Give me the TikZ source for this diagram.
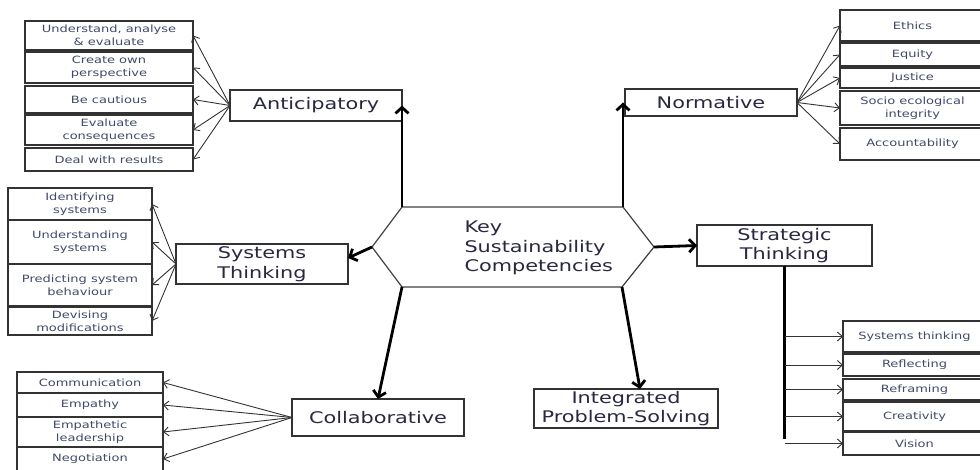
\documentclass[tikz,border=0pt]{standalone}
\usepackage{xcolor}
\usepackage{fontspec}
\newfontfamily\diagfont[FakeStretch=1.3]{DejaVu Sans}
\usepackage{tikz}
\usetikzlibrary{arrows.meta,calc}
\definecolor{bigtext}{RGB}{40,40,64}
\definecolor{smalltext}{RGB}{64,74,104}

\begin{document}
\begin{tikzpicture}[
			x = 1pt, y = -1pt,
			box/.style = {draw=black!80, line width=1.2pt, inner sep=0pt, outer sep=0pt, align=center,
				text=bigtext, font=\diagfont\fontsize{16}{19.5}\selectfont},
			subbox/.style = {draw=black!80, line width=1.1pt, inner sep=0pt, outer sep=0pt, align=center,
				text=smalltext, font=\diagfont\fontsize{10}{13}\selectfont},
			main/.style = {line width=2.8pt, -{Straight Barb[length=6pt,width=13pt]}},
			fan/.style = {draw=black!80, line width=0.9pt, -{Straight Barb[length=5pt,width=9pt]}}
			]

			\path[use as bounding box, clip] (0,0) rectangle (980,470);

			% centre hexagon
			\coordinate (hl) at (372,247);
			\coordinate (htl) at (402,207);
			\coordinate (htr) at (623,207);
			\coordinate (hr) at (654,247);
			\coordinate (hbr) at (622,287);
			\coordinate (hbl) at (402,287);
			\draw[black!75, line width=1.2pt] (hl) -- (htl) -- (htr) -- (hr) -- (hbr) -- (hbl) -- cycle;
			\node[anchor=west, align=left, text=bigtext, font=\diagfont\fontsize{16}{19.5}\selectfont] (key) at (461,248) {Key\\Sustainability\\Competencies};

			% competencies
			\node[box, minimum width=172pt, minimum height=31pt] (ant) at (316,105.5) {Anticipatory};
			\node[box, minimum width=172pt, minimum height=27pt] (nor) at (711,102.5) {Normative};
			\node[box, minimum width=172pt, minimum height=40pt] (sys) at (262,264) {Systems\\Thinking};
			\node[box, minimum width=175pt, minimum height=41pt] (str) at (784.5,245.5) {Strategic\\Thinking};
			\node[box, minimum width=172pt, minimum height=37pt] (col) at (378,417.5) {Collaborative};
			\node[box, minimum width=184pt, minimum height=39pt] (ips) at (626,408.5) {Integrated\\Problem-Solving};

			\draw[main] (htl) -- (htl |- ant.east);
			\draw[main] (htr) -- (htr |- nor.west);
			\draw[main] (hl) -- ([yshift=6pt]sys.east);
			\draw[main] (hr) -- (str.west);
			\draw[main] (hbl) -- (col.north);
			\draw[main] (hbr) -- ([xshift=14pt]ips.north);

			% anticipatory
			\foreach \i/\ya/\yb/\txt in {1/21/50/{Understand, analyse\\\& evaluate},2/52/83/{Create own\\perspective},
				3/86/113/{Be cautious},4/115/145/{Evaluate\\consequences},5/148/171/{Deal with results}}{
				\node[subbox, minimum width=168pt, minimum height={(\yb-\ya)*1pt}] (ant\i) at (109,{(\ya+\yb)/2}) {\txt};
				\draw[fan] (ant.west) -- (ant\i.east);
			}

			% systems thinking
			\foreach \i/\ya/\yb/\txt in {1/188/220/{Identifying\\systems},2/220/264/{Understanding\\systems},
				3/264/306/{Predicting system\\behaviour},4/307/335/{Devising\\modifications}}{
				\node[subbox, minimum width=144pt, minimum height={(\yb-\ya)*1pt}] (sys\i) at (80,{(\ya+\yb)/2}) {\txt};
				\draw[fan] (sys.west) -- (sys\i.east);
			}

			% collaborative
			\foreach \i/\ya/\yb/\txt in {1/372/393/{Communication},2/393/417/{Empathy},
				3/417/447/{Empathetic\\leadership},4/447/471/{Negotiation}}{
				\node[subbox, minimum width=146pt, minimum height={(\yb-\ya)*1pt}] (col\i) at (90,{(\ya+\yb)/2}) {\txt};
				\draw[fan] (col.west) -- (col\i.east);
			}

			% normative
			\foreach \i/\ya/\yb/\txt in {1/10/41/{Ethics},2/43/66/{Equity},3/68/88/{Justice},
				4/91/125/{Socio ecological\\integrity},5/128/160/{Accountability}}{
				\node[subbox, minimum width=145pt, minimum height={(\yb-\ya)*1pt}] (nor\i) at (912.5,{(\ya+\yb)/2}) {\txt};
				\draw[fan] (nor.east) -- (nor\i.west);
			}

			% strategic thinking
			\coordinate (stend) at (784.5,439);
			\draw[line width=2.8pt] (str.south) -- (stend);
			\foreach \i/\ya/\yb/\txt in {1/321/352/{Systems thinking},2/354/376/{Reflecting},3/379/400/{Reframing},
				4/402/431/{Creativity},5/432/455/{Vision}}{
				\node[subbox, minimum width=143pt, minimum height={(\yb-\ya)*1pt}] (str\i) at (914.5,{(\ya+\yb)/2}) {\txt};
				\draw[fan] (str.south |- str\i.west) -- (str\i.west);
			}

		\end{tikzpicture}
\end{document}
